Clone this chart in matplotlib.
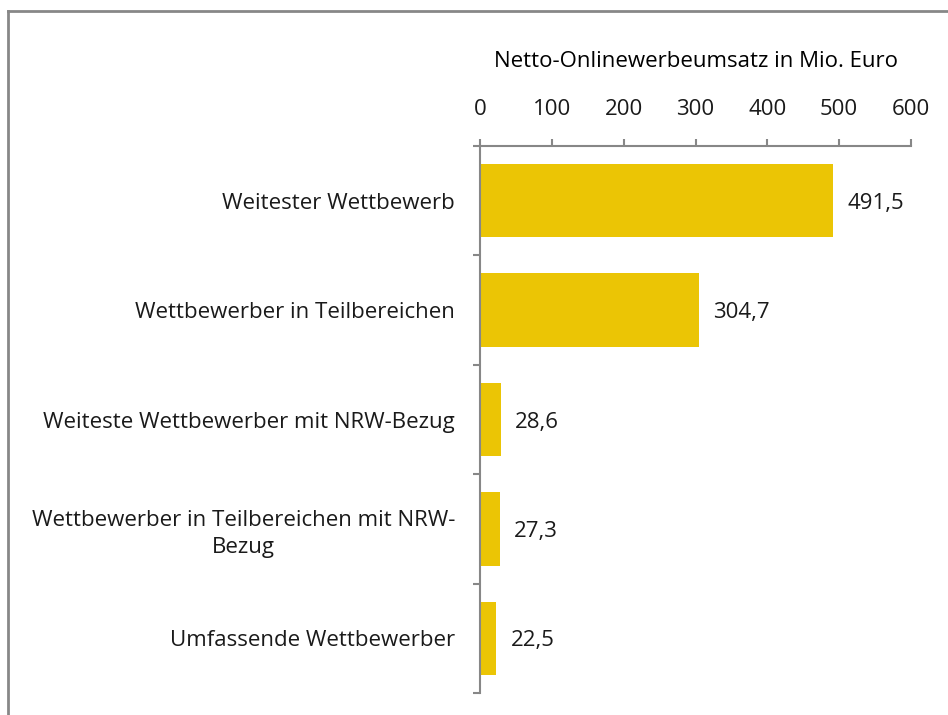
import matplotlib
matplotlib.use("Agg")
import matplotlib.pyplot as plt
from matplotlib.lines import Line2D
import numpy as np

categories = [
    "Weitester Wettbewerb",
    "Wettbewerber in Teilbereichen",
    "Weiteste Wettbewerber mit NRW-Bezug",
    "Wettbewerber in Teilbereichen mit NRW-\nBezug",
    "Umfassende Wettbewerber",
]
values = [491.5, 304.7, 28.6, 27.3, 22.5]
value_labels = ["491,5", "304,7", "28,6", "27,3", "22,5"]
xticks = [0, 100, 200, 300, 400, 500, 600]

plt.rcParams['font.family'] = ['Open Sans', 'DejaVu Sans']
bar_color = '#EBC505'
axis_color = '#878787'
fs = 16

fig = plt.figure(figsize=(9.48, 7.15), dpi=100)
ax = fig.add_axes([480 / 948, 1 - 693 / 715, 431 / 948, (693 - 146) / 715])

y = np.arange(len(categories))
ax.barh(y, values, height=0.67, color=bar_color)
ax.set_ylim(len(categories) - 0.5, -0.5)
ax.set_xlim(0, 600)

for yi, v, lab in zip(y, values, value_labels):
    ax.text(v + 20, yi, lab, va='center_baseline', ha='left', fontsize=fs, color='#1a1a1a')

ax.xaxis.set_ticks_position('top')
ax.xaxis.set_label_position('top')
ax.set_xticks(xticks)
ax.set_xticklabels([str(t) for t in xticks], fontsize=fs, color='#1a1a1a')
ax.tick_params(axis='x', direction='out', length=5, width=1.5, color=axis_color, pad=14)
ax.set_xlabel("Netto-Onlinewerbeumsatz in Mio. Euro", fontsize=fs, labelpad=23, color='black')

ax.set_yticks(y)
ax.set_yticklabels(categories, fontsize=fs, color='#1a1a1a', multialignment='center',
                   linespacing=1.35)
ax.set_yticks(np.arange(-0.5, len(categories)), minor=True)
ax.tick_params(axis='y', which='major', length=0, pad=18)
ax.tick_params(axis='y', which='minor', length=5, width=1.5, color=axis_color)

for s in ['right', 'bottom']:
    ax.spines[s].set_visible(False)
for s in ['left', 'top']:
    ax.spines[s].set_color(axis_color)
    ax.spines[s].set_linewidth(1.5)

# outer frame (left and top edges)
fig.add_artist(Line2D([7.5 / 948, 7.5 / 948], [0, 1 - 10.5 / 715], transform=fig.transFigure,
                      color=axis_color, lw=2))
fig.add_artist(Line2D([7.5 / 948, 1], [1 - 10.5 / 715, 1 - 10.5 / 715], transform=fig.transFigure,
                      color=axis_color, lw=2))

fig.savefig("out.png", dpi=100)
